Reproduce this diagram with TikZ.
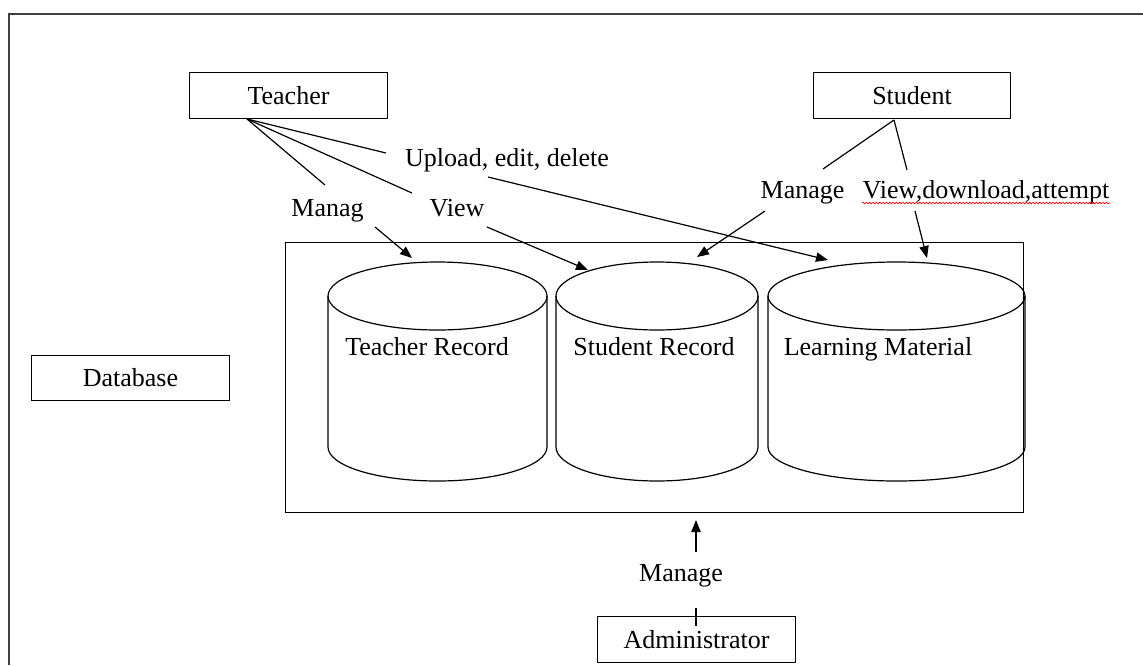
\documentclass[tikz,border=0pt]{standalone}
\usepackage{fontspec}
\setmainfont{Liberation Serif}
\usetikzlibrary{arrows.meta,decorations.pathmorphing}

\begin{document}
\begin{tikzpicture}[x=0.75pt,y=-0.75pt,line width=0.9pt,
  every node/.style={font=\fontsize{19.5}{23}\selectfont},
  box/.style={draw,minimum width=148pt,minimum height=34pt,inner sep=0pt},
  lbl/.style={anchor=base},
  arr/.style={-{Triangle[length=9pt,width=7pt]}}]
  \useasboundingbox (0,0) rectangle (1143,665);
  % outer frame (cut off right and bottom)
  \draw[line width=1.3pt,black!75] (9,665) -- (9,14) -- (1143,14);
  % actors
  \node[box] (teacher) at (288.5,95.5) {Teacher};
  \node[box] (student) at (912,95.5) {Student};
  \node[box] (admin) at (696.5,639.5) {Administrator};
  \node[box] (database) at (130.5,378) {Database};
  % data store
  \node[draw,minimum width=554pt,minimum height=203pt,inner sep=0pt] (store) at (654.5,377.5) {};
  \foreach \nm/\cx/\rx/\tx/\txt in {tcyl/437.5/109.5/427/Teacher Record,
    scyl/657/101/654/Student Record,
    lcyl/896.5/128.5/878/Learning Material}{
    \draw (\cx,296) ellipse [x radius=\rx, y radius=34];
    \draw (\cx-\rx,296) -- (\cx-\rx,447) arc[start angle=180,end angle=0,x radius=\rx,y radius=34] -- (\cx+\rx,296);
    \node[lbl] (\nm) at (\tx,355) {\txt};
    }
  % labels
  \node[lbl] (upl) at (507,166) {Upload, edit, delete};
  \node[lbl] (tmng) at (327.5,216) {Manag};
  \node[lbl] (tview) at (457,216) {View};
  \node[lbl] (smng) at (802.5,198) {Manage};
  \node[lbl] (sview) at (986,198) {View,download,attempt};
  \node[lbl] (amng) at (681,581) {Manage};
  \draw[red,line width=0.5pt,decorate,decoration={snake,amplitude=0.6pt,segment length=2.5pt}] (862,203) -- (1110,203);
  % line ends
  \coordinate (tfoot) at (247,119);
  \coordinate (sfoot) at (894,120);
  \coordinate (tm1) at (325,185);  \coordinate (tm2) at (375,227);  \coordinate (tm3) at (412,258);
  \coordinate (tv1) at (412,193);  \coordinate (tv2) at (487,227);  \coordinate (tv3) at (588,270);
  \coordinate (tu1) at (386,153);  \coordinate (tu2) at (488,177);  \coordinate (tu3) at (828,260);
  \coordinate (sm1) at (823,169);  \coordinate (sm2) at (765,211);  \coordinate (sm3) at (697,257);
  \coordinate (sv1) at (907,170);  \coordinate (sv2) at (915,211);  \coordinate (sv3) at (927,258);
  \coordinate (am1) at (696,552);  \coordinate (am2) at (696,520);
  \coordinate (al1) at (696,608);  \coordinate (al2) at (696,626);
  % teacher
  \draw (tfoot) -- (tm1);
  \draw (tfoot) -- (tv1);
  \draw (tfoot) -- (tu1);
  \draw[arr] (tm2) -- (tm3);
  \draw[arr] (tv2) -- (tv3);
  \draw[arr] (tu2) -- (tu3);
  % student
  \draw (sfoot) -- (sm1);
  \draw (sfoot) -- (sv1);
  \draw[arr] (sm2) -- (sm3);
  \draw[arr] (sv2) -- (sv3);
  % administrator
  \draw[arr] (am1) -- (am2);
  \draw (al1) -- (al2);
\end{tikzpicture}
\end{document}
